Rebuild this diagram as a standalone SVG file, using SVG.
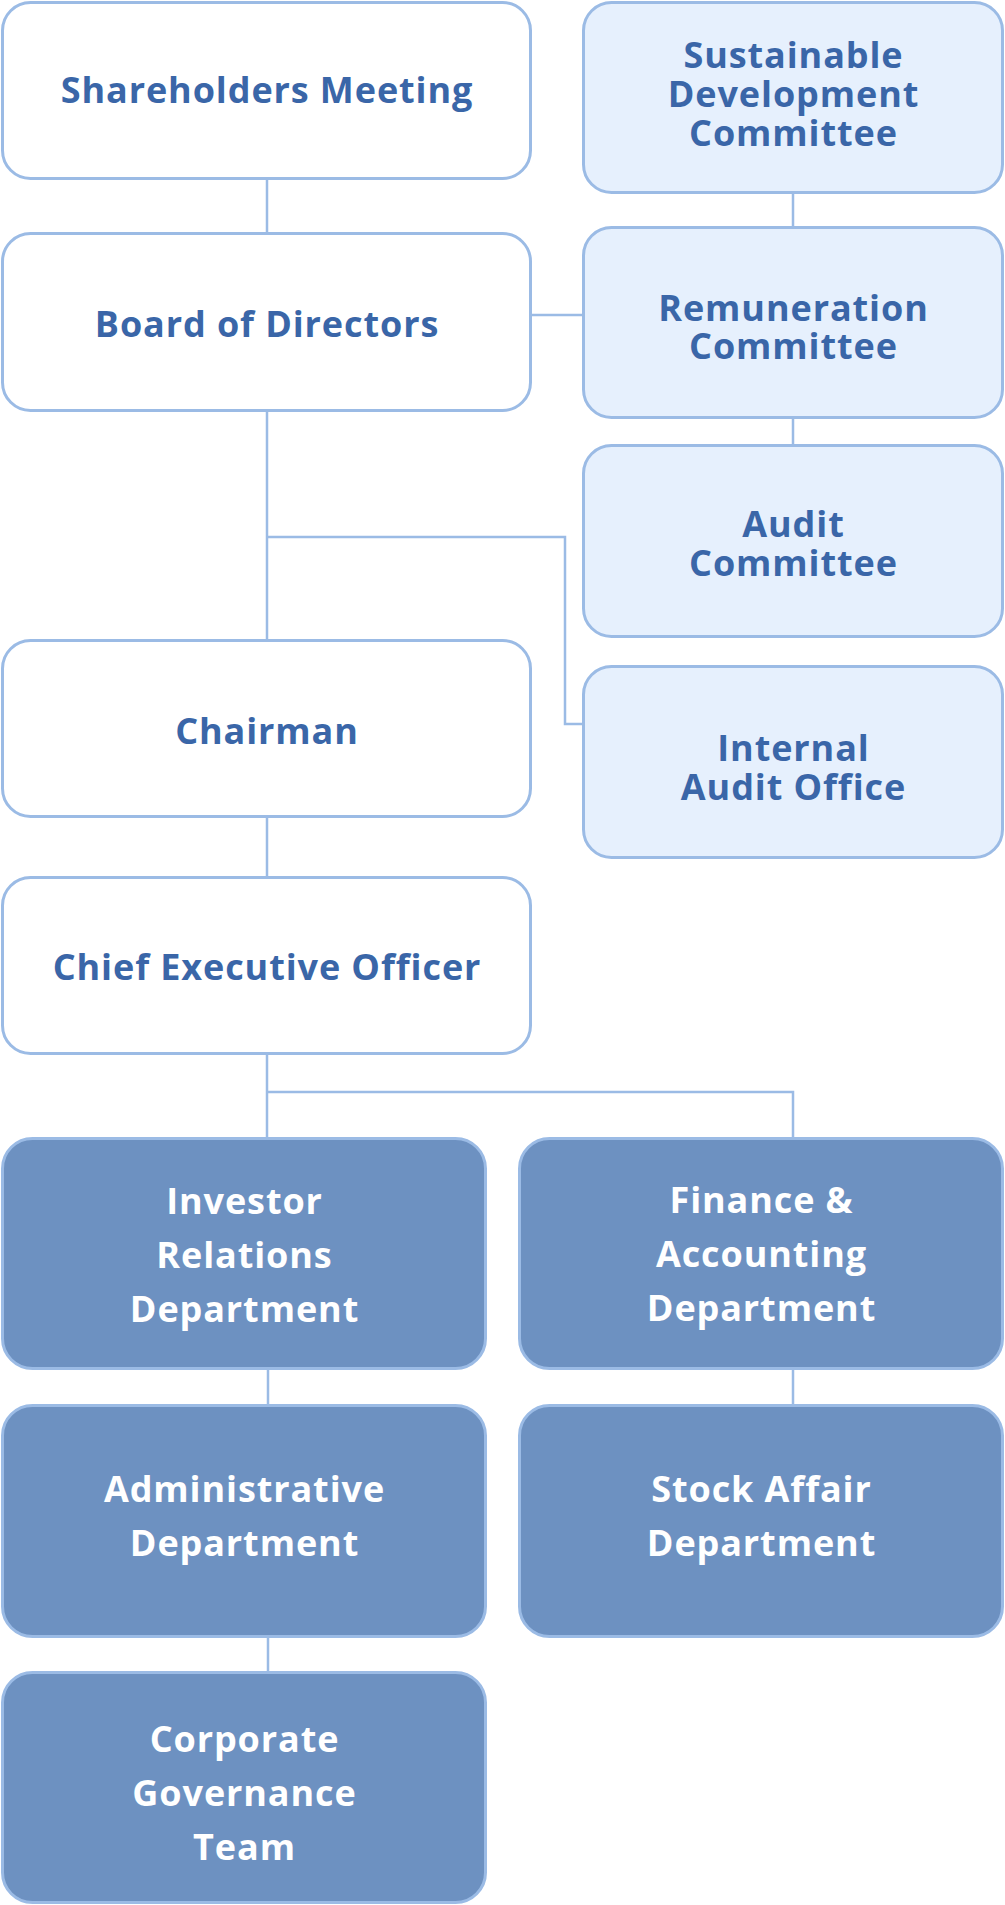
<svg xmlns="http://www.w3.org/2000/svg" width="1005" height="1905" viewBox="0 0 1005 1905">
<style>
.box{stroke:#9bbbe5;stroke-width:3}
.w{fill:#ffffff}
.l{fill:#e6f0fd}
.d{fill:#6d91c1}
.t{font-family:"Open Sans","Noto Sans","Liberation Sans",sans-serif;font-weight:700;font-size:36px;letter-spacing:0.9px;text-anchor:middle}
.tb{fill:#3a66a8}
.tw{fill:#ffffff}
.c{fill:none;stroke:#9bbbe5;stroke-width:2.5}
</style>
<rect width="1005" height="1905" fill="#ffffff"/>
<g id="connectors">
<path class="c" d="M267 180V233"/>
<path class="c" d="M267 412V640"/>
<path class="c" d="M267 537H565V724H583"/>
<path class="c" d="M531 315H583"/>
<path class="c" d="M793 194V227"/>
<path class="c" d="M793 419V445"/>
<path class="c" d="M267 818V877"/>
<path class="c" d="M267 1055V1138"/>
<path class="c" d="M267 1092H793V1138"/>
<path class="c" d="M268 1370V1405"/>
<path class="c" d="M793 1370V1405"/>
<path class="c" d="M268 1638V1672"/>
</g>
<g id="shareholders">
<rect class="box w" x="2.5" y="2.5" width="528" height="176" rx="28"/>
<text class="t tb" x="267" y="103">Shareholders Meeting</text>
</g>
<g id="board">
<rect class="box w" x="2.5" y="233.5" width="528" height="177" rx="28"/>
<text class="t tb" x="267" y="337">Board of Directors</text>
</g>
<g id="chairman">
<rect class="box w" x="2.5" y="640.5" width="528" height="176" rx="28"/>
<text class="t tb" x="267" y="744">Chairman</text>
</g>
<g id="ceo">
<rect class="box w" x="2.5" y="877.5" width="528" height="176" rx="28"/>
<text class="t tb" x="267" y="980">Chief Executive Officer</text>
</g>
<g id="sdc">
<rect class="box l" x="583.5" y="2.5" width="419" height="190" rx="28"/>
<text class="t tb" x="793.5" y="68">Sustainable</text>
<text class="t tb" x="793.5" y="107">Development</text>
<text class="t tb" x="793.5" y="146">Committee</text>
</g>
<g id="remuneration">
<rect class="box l" x="583.5" y="227.5" width="419" height="190" rx="28"/>
<text class="t tb" x="793.5" y="321">Remuneration</text>
<text class="t tb" x="793.5" y="359">Committee</text>
</g>
<g id="audit">
<rect class="box l" x="583.5" y="445.5" width="419" height="191" rx="28"/>
<text class="t tb" x="793.5" y="537">Audit</text>
<text class="t tb" x="793.5" y="576">Committee</text>
</g>
<g id="internal-audit">
<rect class="box l" x="583.5" y="666.5" width="419" height="191" rx="28"/>
<text class="t tb" x="793.5" y="761">Internal</text>
<text class="t tb" x="793.5" y="800">Audit Office</text>
</g>
<g id="investor-relations">
<rect class="box d" x="2.5" y="1138.5" width="483" height="230" rx="30"/>
<text class="t tw" x="244.5" y="1214">Investor</text>
<text class="t tw" x="244.5" y="1268">Relations</text>
<text class="t tw" x="244.5" y="1322">Department</text>
</g>
<g id="finance">
<rect class="box d" x="519.5" y="1138.5" width="483" height="230" rx="30"/>
<text class="t tw" x="761.5" y="1213">Finance &amp;</text>
<text class="t tw" x="761.5" y="1267">Accounting</text>
<text class="t tw" x="761.5" y="1321">Department</text>
</g>
<g id="administrative">
<rect class="box d" x="2.5" y="1405.5" width="483" height="231" rx="30"/>
<text class="t tw" x="244.5" y="1502">Administrative</text>
<text class="t tw" x="244.5" y="1556">Department</text>
</g>
<g id="stock-affair">
<rect class="box d" x="519.5" y="1405.5" width="483" height="231" rx="30"/>
<text class="t tw" x="761.5" y="1502">Stock Affair</text>
<text class="t tw" x="761.5" y="1556">Department</text>
</g>
<g id="corporate-governance">
<rect class="box d" x="2.5" y="1672.5" width="483" height="230" rx="30"/>
<text class="t tw" x="244.5" y="1752">Corporate</text>
<text class="t tw" x="244.5" y="1806">Governance</text>
<text class="t tw" x="244.5" y="1860">Team</text>
</g>
</svg>
